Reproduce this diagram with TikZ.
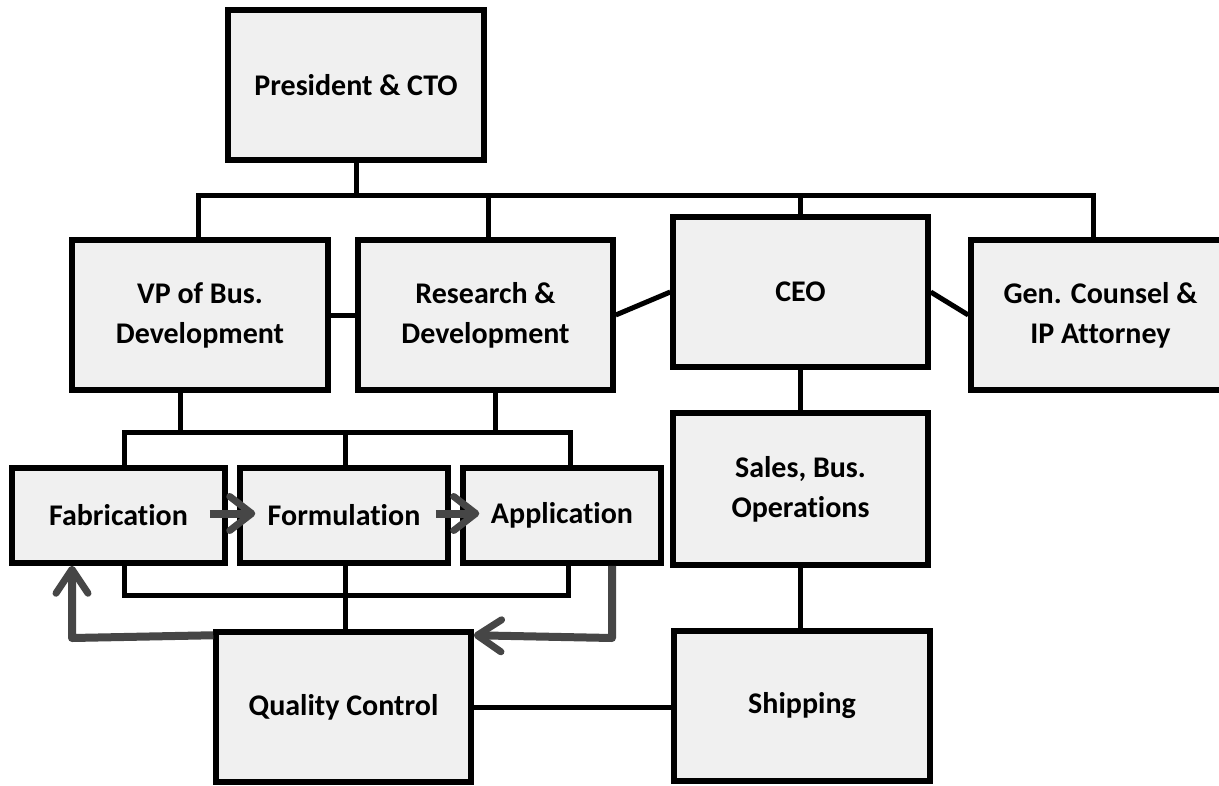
\documentclass[tikz,border=0pt]{standalone}
\usepackage{fontspec}
\setmainfont{Carlito}[Ligatures=NoCommon]
\usetikzlibrary{arrows.meta}
\definecolor{boxfill}{RGB}{240,240,240}
\definecolor{arrowgray}{RGB}{70,70,70}
\begin{document}
\begin{tikzpicture}[x=1pt,y=-1pt,
  box/.style={draw=black, line width=5.5pt, fill=boxfill, rectangle, inner sep=0pt,
    align=center, font=\fontsize{30}{40}\selectfont\bfseries},
  conn/.style={draw=black, line width=5pt},
  garrow/.style={draw=arrowgray, line width=8pt, line join=round,
    -{Straight Barb[length=24pt,width=32pt,line width=7pt,round]}},
  sarrow/.style={draw=arrowgray, line width=8pt,
    -{Straight Barb[length=22pt,width=34pt,line width=7pt,round]}}]
\clip (0,0) rectangle (1219,785);
\fill[white] (0,0) rectangle (1219,785);
% coordinates for connector corners
\coordinate (busL) at (198,195);
\coordinate (busR) at (1093,195);
\coordinate (vpd) at (180,432);
\coordinate (rdd) at (495,432);
\coordinate (brTL) at (124,432);
\coordinate (brTR) at (570,432);
\coordinate (brBL) at (124,595);
\coordinate (brBR) at (568,595);
\coordinate (retL) at (72,638);
\coordinate (retR) at (612,638);
% boxes
\node[box, minimum width=256pt, minimum height=150pt] (pres) at (356,85) {President \& CTO};
\node[box, minimum width=256pt, minimum height=150pt] (vp) at (200,315) {VP of Bus.\\Development};
\node[box, minimum width=255pt, minimum height=150pt] (rd) at (485.5,315) {Research \&\\Development};
\node[box, minimum width=255pt, minimum height=150pt] (ceo) at (800.5,292) {CEO};
\node[box, minimum width=259pt, minimum height=150pt] (gen) at (1100.5,315) {Gen. Counsel \&\\IP Attorney};
\node[box, minimum width=255pt, minimum height=152pt] (sales) at (800.5,489) {Sales, Bus.\\Operations};
\node[box, minimum width=256pt, minimum height=150pt] (ship) at (802,706) {Shipping};
\node[box, minimum width=255pt, minimum height=150pt] (qc) at (343.5,707) {Quality Control};
\node[box, minimum width=213pt, minimum height=95pt] (fab) at (118.5,515.5) {Fabrication};
\node[box, minimum width=208pt, minimum height=95pt] (form) at (344,515.5) {Formulation};
\node[box, minimum width=198pt, minimum height=95pt] (app) at (562,515.5) {Application};
% org connectors
\draw[conn] (pres.south) -- (pres.south |- busL);
\draw[conn] (busL |- vp.north) -- (busL) -- (busR) -- (busR |- gen.north);
\draw[conn] ([xshift=2.5pt]rd.north) -- ([xshift=2.5pt]rd.north |- busL);
\draw[conn] (ceo.north) -- (ceo.north |- busL);
\draw[conn] (vp.east) -- (rd.west);
\draw[conn] (rd.east) -- (ceo.west);
\draw[conn] (ceo.east) -- (gen.west);
\draw[conn] (ceo.south) -- (sales.north);
\draw[conn] (sales.south) -- (sales.south |- ship.north);
\draw[conn] (qc.east) -- (qc.east -| ship.west);
\draw[conn] (vpd |- vp.south) -- (vpd);
\draw[conn] (rdd |- rd.south) -- (rdd);
\draw[conn] (brTL |- fab.north) -- (brTL) -- (brTR) -- (brTR |- app.north);
\draw[conn] ([xshift=1pt]form.north) -- ([xshift=1pt]form.north |- brTL);
\draw[conn] (brBL |- fab.south) -- (brBL) -- (brBR) -- (brBR |- app.south);
\draw[conn] ([xshift=1pt]form.south) -- ([xshift=1pt]form.south |- qc.north);
% gray process arrows
\draw[sarrow] ([xshift=-18pt,yshift=2pt]fab.east) -- ([xshift=18pt,yshift=2pt]form.west);
\draw[sarrow] ([xshift=-15pt,yshift=2pt]form.east) -- ([xshift=19pt,yshift=2pt]app.west);
\draw[garrow] ([yshift=-6pt]qc.north west) -- (retL) -- (retL |- fab.south);
\draw[garrow] (retR |- app.south) -- (retR) -- ([yshift=-6pt]qc.north east);
\end{tikzpicture}
\end{document}
